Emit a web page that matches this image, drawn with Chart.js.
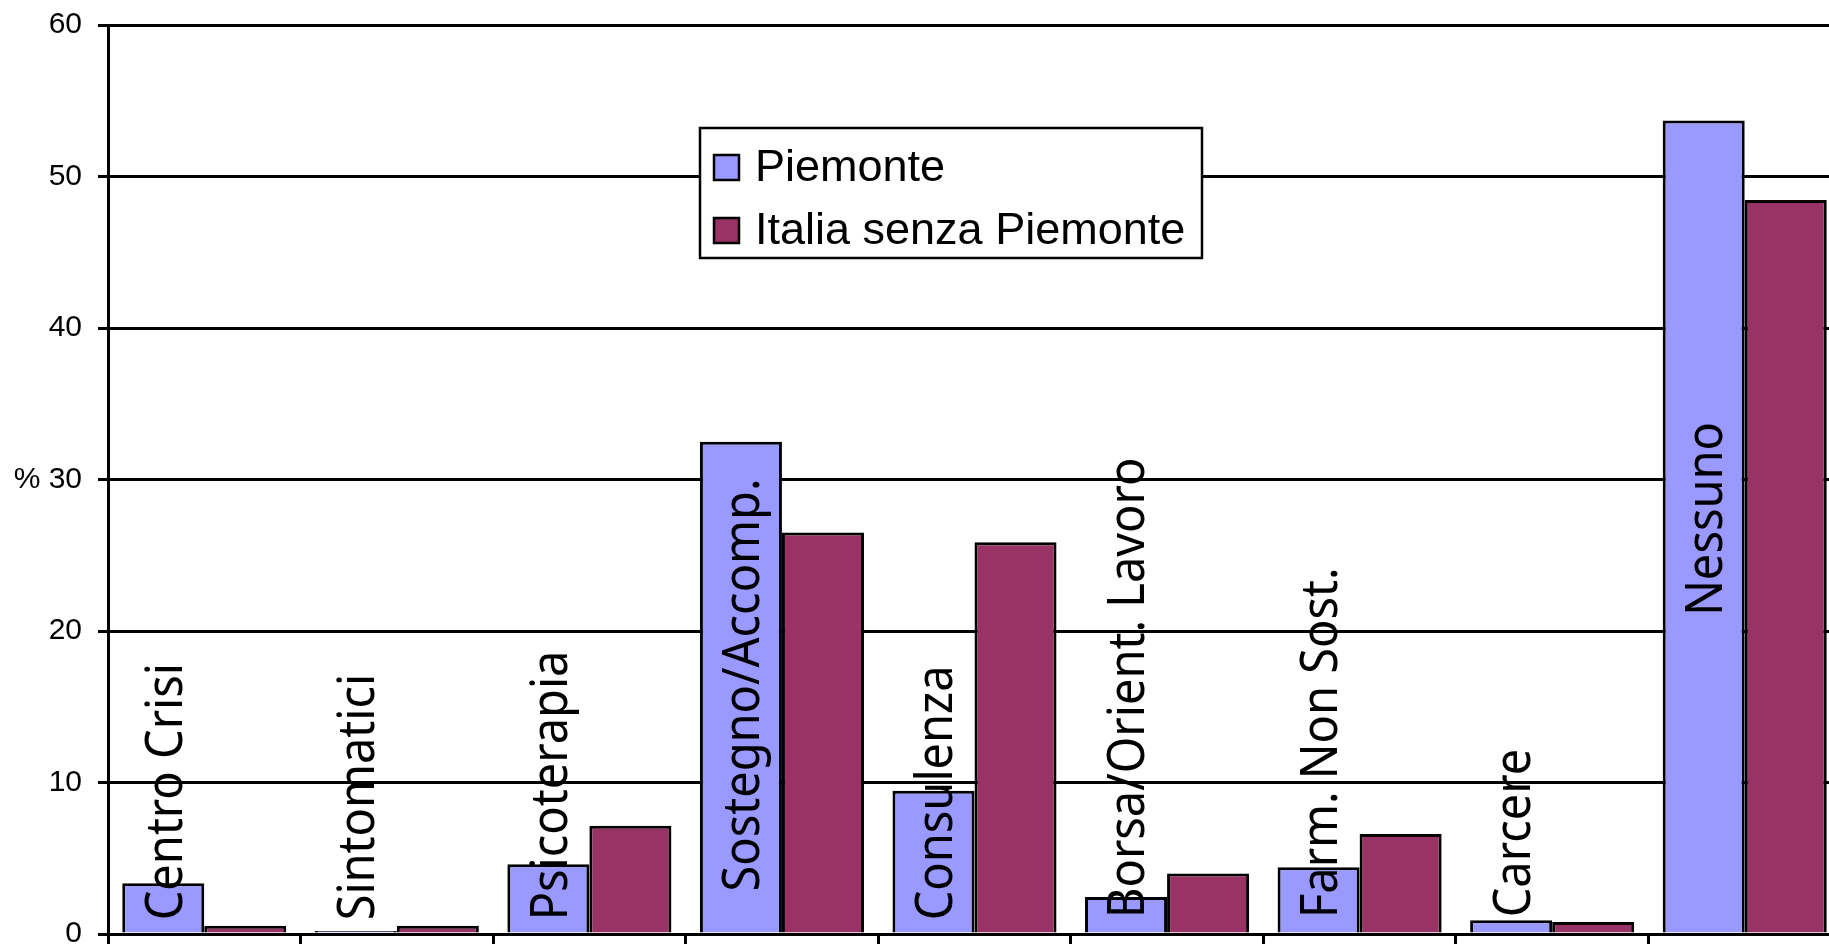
<!DOCTYPE html>
<html>
<head>
<meta charset="utf-8">
<script src="https://cdn.jsdelivr.net/npm/chart.js@4"></script>
<style>
html, body { margin: 0; padding: 0; background: #fff; overflow: hidden; }
#wrap { width: 1850px; height: 944px; }
</style>
</head>
<body>
<div id="wrap"><canvas id="grafico"></canvas></div>
<script>
// dati
var categorie = ['Centro Crisi', 'Sintomatici', 'Psicoterapia', 'Sostegno/Accomp.', 'Consulenza',
                 'Borsa/Orient. Lavoro', 'Farm. Non Sost.', 'Carcere', 'Nessuno'];
var piemonte = [3.35, 0.2, 4.6, 32.5, 9.45, 2.45, 4.4, 0.9, 53.7];
var italiaSenzaPiemonte = [0.55, 0.55, 7.15, 26.5, 25.85, 4.0, 6.6, 0.8, 48.45];
var tickY = [0, 10, 20, 30, 40, 50, 60];

// dove comincia (in % sull'asse) la scritta verticale di ogni categoria
var inizioEtichetta = [0.9, 0.9, 0.9, 2.8, 0.9, 1.05, 1.05, 1.1, 21];

// scritte verticali sopra le barre blu
var etichette = {
    id: 'etichette',
    afterDatasetsDraw: function (chart) {
        var ctx = chart.ctx;
        var y = chart.scales.y;
        var meta = chart.getDatasetMeta(0);
        var dim = 47;
        ctx.save();
        ctx.font = dim + 'px "Noto Sans"';
        ctx.fillStyle = '#000';
        ctx.textAlign = 'left';
        ctx.textBaseline = 'alphabetic';
        categorie.forEach(function (c, i) {
            ctx.save();
            ctx.translate(meta.data[i].x, y.getPixelForValue(inizioEtichetta[i]));
            ctx.rotate(-Math.PI / 2);
            ctx.scale(1, 1.1);
            ctx.fillText(c, 0, dim * 0.714 / 2);
            ctx.restore();
        });
        ctx.restore();
    }
};

// simbolo % accanto al 30
var percento = {
    id: 'percento',
    afterDraw: function (chart) {
        var ctx = chart.ctx;
        ctx.save();
        ctx.font = '30px "Liberation Sans"';
        ctx.fillStyle = '#000';
        ctx.textAlign = 'center';
        ctx.textBaseline = 'middle';
        ctx.fillText('%', 27, chart.scales.y.getPixelForValue(30));
        ctx.restore();
    }
};

// legenda col riquadro in mezzo al grafico
var legenda = {
    id: 'legenda',
    afterDraw: function (chart) {
        var ctx = chart.ctx;
        var x0 = 700, y0 = 128, w = 502, h = 130;
        ctx.save();
        ctx.fillStyle = '#fff';
        ctx.fillRect(x0, y0, w, h);
        ctx.lineWidth = 2.5;
        ctx.strokeStyle = '#000';
        ctx.strokeRect(x0, y0, w, h);
        ctx.font = '45px "Liberation Sans"';
        ctx.textBaseline = 'middle';
        chart.data.datasets.forEach(function (ds, i) {
            var cy = y0 + 39 + i * 63;
            ctx.fillStyle = ds.backgroundColor;
            ctx.fillRect(x0 + 14, cy - 12, 25, 25);
            ctx.strokeRect(x0 + 14, cy - 12, 25, 25);
            ctx.fillStyle = '#000';
            ctx.fillText(ds.label, x0 + 55, cy + 2);
        });
        ctx.restore();
    }
};

var ctx = document.getElementById('grafico').getContext('2d');
var grafico = new Chart(ctx, {
    type: 'bar',
    data: {
        labels: categorie,
        datasets: [{
            label: 'Piemonte',
            data: piemonte,
            backgroundColor: '#9999FF',
            borderColor: '#000',
            borderWidth: 3
        }, {
            label: 'Italia senza Piemonte',
            data: italiaSenzaPiemonte,
            backgroundColor: '#993366',
            borderColor: '#000',
            borderWidth: 3
        }]
    },
    options: {
        responsive: true,
        maintainAspectRatio: false,
        animation: false,
        layout: { padding: { top: 25, right: 9, left: 0, bottom: 0 } },
        datasets: { bar: { categoryPercentage: 0.852, barPercentage: 1 } },
        plugins: { legend: { display: false }, tooltip: { enabled: false } },
        scales: {
            x: {
                ticks: { display: false },
                grid: { drawOnChartArea: false, offset: true, color: '#000', lineWidth: 3, tickLength: 10 },
                border: { color: '#000', width: 3 },
                afterFit: function (s) {
                    s.height = 10;
                    s.paddingLeft = 0;
                    s.paddingRight = 0;
                }
            },
            y: {
                min: 0,
                max: 60,
                afterBuildTicks: function (s) { s.ticks = tickY.map(function (v) { return { value: v }; }); },
                ticks: { color: '#000', font: { family: '"Liberation Sans", Arial', size: 30 }, padding: 16 },
                grid: { color: '#000', lineWidth: 3, tickLength: 10 },
                border: { color: '#000', width: 3 },
                afterFit: function (s) {
                    s.width = 108;
                    s.paddingTop = 0;
                    s.paddingBottom = 0;
                }
            }
        }
    },
    plugins: [etichette, percento, legenda]
});
</script>
</body>
</html>
